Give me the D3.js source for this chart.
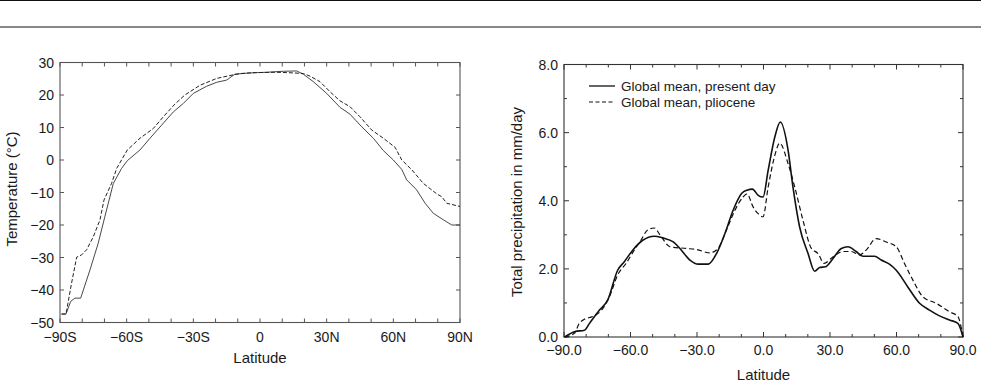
<!DOCTYPE html>
<html>
<head>
<meta charset="utf-8">
<script src="https://cdn.jsdelivr.net/npm/d3@7"></script>
<style>
  html, body { margin: 0; padding: 0; background: #fff; }
  svg { display: block; }
  text { font-family: "Liberation Sans", Arial, Helvetica, sans-serif; fill: #1a1a1a; }
</style>
</head>
<body>
<svg id="chart" width="981" height="383"></svg>
<script>
// ---------- Left panel: zonal mean temperature ----------
const tempPresentLat = [-89.3,-87.3,-85.2,-83.3,-80.7,-76.5,-72.8,-69.8,-66,-62.3,-59.7,-54,-49.5,-44.3,-39,-34.5,-30,-24,-19.5,-15,-11.3,-4.5,3,10.5,16.5,19.5,24,30,36,40.5,45.8,51,55.5,60,63.8,66,70.5,74.3,78,82.5,86.3,90];
const tempPresent    = [-47.4,-47.4,-43.5,-42.5,-42.5,-33.8,-25.6,-17.4,-7.2,-2.6,-0.2,3.1,6.7,10.7,14.8,17.4,20.5,22.7,23.9,24.6,26.4,26.8,27.0,27.3,27.4,26.4,24.1,20.5,16.2,14.1,10.2,6.7,2.9,0.0,-2.9,-6.1,-9.2,-13.3,-16.4,-18.4,-20.0,-20.0];
const tempPlioLat    = [-89.3,-87.3,-84.8,-82.5,-80.3,-78,-75,-72,-70.2,-66.8,-64.5,-59.7,-54,-48,-43.5,-38.3,-33.8,-27,-19.5,-13.5,-9,-1.5,7.5,15,19.5,22.5,27,31.5,36,40.5,45,50.3,55.5,60.8,63.8,68.3,73.5,79.5,81.8,84,90];
const tempPlio       = [-47.4,-47.4,-37.9,-29.9,-29.2,-27.6,-23.6,-18.4,-12.3,-7.2,-2.6,3.1,6.7,9.7,13.3,17.2,20.0,23.0,25.1,26.0,26.6,26.9,27.0,26.8,26.6,25.8,24.1,21.0,18.2,16.4,13.3,9.2,6.7,3.9,0.0,-3.0,-7.2,-10.4,-11.3,-13.3,-14.3];
const tempTickValues = [-50,-40,-30,-20,-10,0,10,20,30];
const tempLatTickValues = [-90,-60,-30,0,30,60,90];
const tempLatTickLabels = ["\u221290S","\u221260S","\u221230S","0","30N","60N","90N"];

// ---------- Right panel: total precipitation ----------
const precPresentLat = [-89.7,-85,-80.8,-78.5,-74,-70.3,-65.8,-62.8,-59,-54.5,-49.3,-45.5,-40.7,-37.7,-33.2,-29.4,-24.9,-21.2,-17.4,-13.7,-9.9,-7.4,-5,-2.4,-0.2,2.1,5.1,7.6,11.1,13.3,16.3,20.1,23.1,25.3,27.9,31.3,35.1,38.1,41.8,44.8,50.1,53.1,56.8,59.9,65.1,70.4,74.9,79.4,83.9,87.7,90];
const precPresent    = [0.0,0.16,0.2,0.4,0.79,1.08,1.96,2.21,2.55,2.84,2.96,2.91,2.79,2.6,2.26,2.14,2.14,2.45,3.04,3.72,4.21,4.31,4.34,4.16,4.11,4.89,5.87,6.31,5.48,4.4,3.23,2.45,1.93,2.04,2.06,2.3,2.6,2.65,2.51,2.37,2.37,2.26,2.14,1.96,1.47,0.99,0.79,0.62,0.5,0.4,0.0];
const precPlioLat    = [-89.7,-85.3,-83.1,-80.8,-77.1,-73.3,-69.5,-65.8,-62,-58.3,-55.3,-52.3,-49.3,-46.7,-42.2,-34.7,-30.2,-24.2,-20.5,-16.7,-12.9,-9.2,-7.4,-4.7,-2.4,-0.2,2.1,5.1,7.3,11.1,14.1,17.8,21.6,24.6,27.3,31.3,35.8,39.6,43.3,46.3,50.8,55.3,59.9,63.6,67.4,71.9,77.9,83.9,87.7,90];
const precPlio       = [0.0,0.11,0.4,0.52,0.6,0.77,1.18,1.82,2.16,2.55,2.84,3.14,3.2,3.0,2.65,2.6,2.57,2.47,2.6,3.14,3.72,4.11,4.2,3.82,3.62,3.53,4.4,5.33,5.69,5.09,4.4,3.43,2.6,2.45,2.16,2.35,2.51,2.51,2.41,2.55,2.89,2.79,2.65,2.16,1.67,1.18,0.99,0.74,0.6,0.0];
const precTickValues = [0,2,4,6,8];
const precTickLabels = ["0.0","2.0","4.0","6.0","8.0"];
const precLatTickValues = [-90,-60,-30,0,30,60,90];
const precLatTickLabels = ["\u221290.0","\u221260.0","\u221230.0","0.0","30.0","60.0","90.0"];
const legendLabels = ["Global mean, present day","Global mean, pliocene"];

const svg = d3.select("#chart");

// header rules
svg.append("line").attr("x1",0).attr("x2",981).attr("y1",0.5).attr("y2",0.5).attr("stroke","#111").attr("stroke-width",1.2);
svg.append("line").attr("x1",0).attr("x2",981).attr("y1",27).attr("y2",27).attr("stroke","#111").attr("stroke-width",1.2);

function tickSet(g, scale, vals, orient, len, color) {
  // inward ticks
  vals.forEach(v => {
    const p = scale(v);
    if (orient === "bottom") g.append("line").attr("x1",p).attr("x2",p).attr("y1",0).attr("y2",-len);
    if (orient === "top") g.append("line").attr("x1",p).attr("x2",p).attr("y1",0).attr("y2",len);
    if (orient === "left") g.append("line").attr("y1",p).attr("y2",p).attr("x1",0).attr("x2",len);
    if (orient === "right") g.append("line").attr("y1",p).attr("y2",p).attr("x1",0).attr("x2",-len);
  });
  g.selectAll("line").attr("stroke",color).attr("stroke-width",1);
}

// ================= LEFT PANEL =================
{
  const L = {x0:60, x1:460, y0:62.5, y1:322.5};
  const x = d3.scaleLinear().domain([-90,90]).range([L.x0,L.x1]);
  const y = d3.scaleLinear().domain([-50,30]).range([L.y1,L.y0]);
  const frameColor = "#555";
  const g = svg.append("g");

  const minor = d3.range(-90,91,10);
  tickSet(g.append("g").attr("transform",`translate(0,${L.y1})`), x, minor, "bottom", 4, frameColor);
  tickSet(g.append("g").attr("transform",`translate(0,${L.y0})`), x, minor, "top", 4, frameColor);
  tickSet(g.append("g").attr("transform",`translate(${L.x0},0)`), y, tempTickValues, "left", 4, frameColor);
  tickSet(g.append("g").attr("transform",`translate(${L.x1},0)`), y, tempTickValues, "right", 4, frameColor);

  g.append("rect").attr("x",L.x0).attr("y",L.y0).attr("width",L.x1-L.x0).attr("height",L.y1-L.y0)
    .attr("fill","none").attr("stroke",frameColor).attr("stroke-width",1.1);

  // tick labels
  g.selectAll(".yl").data(tempTickValues).join("text")
    .attr("x",L.x0-6).attr("y",d=>y(d)+5).attr("text-anchor","end").attr("font-size",14)
    .text(d => d < 0 ? "\u2212" + Math.abs(d) : String(d));
  g.selectAll(".xl").data(tempLatTickValues).join("text")
    .attr("x",d=>x(d)).attr("y",L.y1+19).attr("text-anchor","middle").attr("font-size",14)
    .text((d,i)=>tempLatTickLabels[i]);

  g.append("text").attr("x",(L.x0+L.x1)/2).attr("y",363).attr("text-anchor","middle").attr("font-size",15).text("Latitude");
  g.append("text").attr("transform",`translate(17,189) rotate(-90)`).attr("text-anchor","middle").attr("font-size",15).text("Temperature (\u00B0C)");

  const line = d3.line().x(d=>x(d[0])).y(d=>y(d[1]));
  g.append("path").datum(tempPresentLat.map((v,i)=>[v,tempPresent[i]]))
    .attr("d",line).attr("fill","none").attr("stroke","#333").attr("stroke-width",0.9);
  g.append("path").datum(tempPlioLat.map((v,i)=>[v,tempPlio[i]]))
    .attr("d",line).attr("fill","none").attr("stroke","#222").attr("stroke-width",1).attr("stroke-dasharray","4,2");
}

// ================= RIGHT PANEL =================
{
  const R = {x0:564, x1:963, y0:64.5, y1:337};
  const x = d3.scaleLinear().domain([-90,90]).range([R.x0,R.x1]);
  const y = d3.scaleLinear().domain([0,8]).range([R.y1,R.y0]);
  const frameColor = "#333";
  const g = svg.append("g");

  const minorX = d3.range(-90,91,10).filter(v => v % 30 !== 0);
  const minorY = [1,3,5,7];
  tickSet(g.append("g").attr("transform",`translate(0,${R.y1})`), x, precLatTickValues, "bottom", 5, frameColor);
  tickSet(g.append("g").attr("transform",`translate(0,${R.y1})`), x, minorX, "bottom", 3, frameColor);
  tickSet(g.append("g").attr("transform",`translate(0,${R.y0})`), x, precLatTickValues, "top", 5, frameColor);
  tickSet(g.append("g").attr("transform",`translate(0,${R.y0})`), x, minorX, "top", 3, frameColor);
  tickSet(g.append("g").attr("transform",`translate(${R.x0},0)`), y, precTickValues, "left", 5, frameColor);
  tickSet(g.append("g").attr("transform",`translate(${R.x0},0)`), y, minorY, "left", 3, frameColor);
  tickSet(g.append("g").attr("transform",`translate(${R.x1},0)`), y, precTickValues, "right", 5, frameColor);
  tickSet(g.append("g").attr("transform",`translate(${R.x1},0)`), y, minorY, "right", 3, frameColor);

  g.append("rect").attr("x",R.x0).attr("y",R.y0).attr("width",R.x1-R.x0).attr("height",R.y1-R.y0)
    .attr("fill","none").attr("stroke",frameColor).attr("stroke-width",1.1);

  g.selectAll(".yl").data(precTickValues).join("text")
    .attr("x",R.x0-6).attr("y",d=>y(d)+5).attr("text-anchor","end").attr("font-size",14)
    .text((d,i)=>precTickLabels[i]);
  g.selectAll(".xl").data(precLatTickValues).join("text")
    .attr("x",d=>x(d)).attr("y",R.y1+18).attr("text-anchor","middle").attr("font-size",14)
    .text((d,i)=>precLatTickLabels[i]);

  g.append("text").attr("x",(R.x0+R.x1)/2).attr("y",380).attr("text-anchor","middle").attr("font-size",15).text("Latitude");
  g.append("text").attr("transform",`translate(522,202) rotate(-90)`).attr("text-anchor","middle").attr("font-size",15).text("Total precipitation in mm/day");

  const line = d3.line().x(d=>x(d[0])).y(d=>y(d[1])).curve(d3.curveMonotoneX);
  g.append("path").datum(precPresentLat.map((v,i)=>[v,precPresent[i]]))
    .attr("d",line).attr("fill","none").attr("stroke","#111").attr("stroke-width",1.6);
  g.append("path").datum(precPlioLat.map((v,i)=>[v,precPlio[i]]))
    .attr("d",line).attr("fill","none").attr("stroke","#111").attr("stroke-width",1.2).attr("stroke-dasharray","5,3");

  // legend
  const lg = g.append("g");
  legendLabels.forEach((t,i) => {
    const yy = 86 + i*16;
    lg.append("line").attr("x1",589).attr("x2",615).attr("y1",yy).attr("y2",yy)
      .attr("stroke","#111").attr("stroke-width",i===0?1.3:1.2).attr("stroke-dasharray",i===0?null:"4,2.5");
    lg.append("text").attr("x",621).attr("y",yy+5).attr("font-size",13.5).text(t);
  });
}
</script>
</body>
</html>
